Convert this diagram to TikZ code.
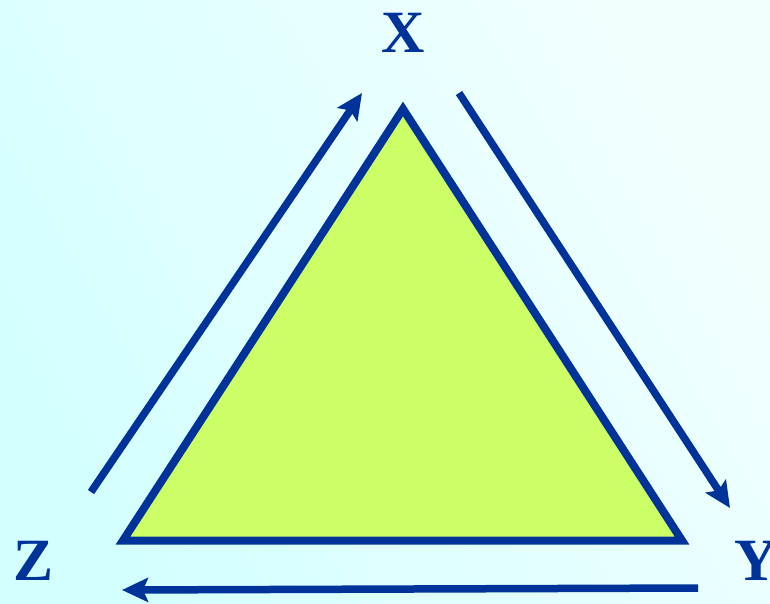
\documentclass[tikz,border=0pt]{standalone}
\usepackage{fontspec}
\setmainfont{Liberation Serif}
\usetikzlibrary{arrows.meta}
\definecolor{dkblue}{RGB}{0,51,153}
\definecolor{limefill}{RGB}{204,255,102}
\definecolor{bgA}{RGB}{242,255,255}
\definecolor{bgB}{RGB}{212,255,255}
\tikzset{
  edgearrow/.style={draw=dkblue, line width=7.5pt, -{Stealth[length=26pt,width=24pt,inset=5pt]}},
  vlabel/.style={text=dkblue, font=\fontsize{60}{60}\selectfont\bfseries, inner sep=0pt},
}
\begin{document}
\begin{tikzpicture}[x=1pt,y=-1pt]
\useasboundingbox (0,0) rectangle (770,603);
\shade[left color=bgA, right color=bgB, shading angle=-60] (0,0) rectangle (770,603);
\coordinate (tx) at (403,109);
\coordinate (tz) at (123,540.5);
\coordinate (ty) at (682,540.5);
\filldraw[fill=limefill, draw=dkblue, line width=8pt] (tx) -- (ty) -- (tz) -- cycle;
\node[vlabel] (X) at (403,33) {X};
\node[vlabel] (Z) at (34,561) {Z};
\node[vlabel] (Y) at (756,561) {Y};
\coordinate (a1s) at (91,492);
\coordinate (a1e) at (362,93);
\coordinate (a2s) at (459,93);
\coordinate (a2e) at (730,508);
\coordinate (a3s) at (698,588);
\coordinate (a3e) at (122,590);
\draw[edgearrow] (a1s) -- (a1e);
\draw[edgearrow] (a2s) -- (a2e);
\draw[edgearrow] (a3s) -- (a3e);
\end{tikzpicture}
\end{document}
